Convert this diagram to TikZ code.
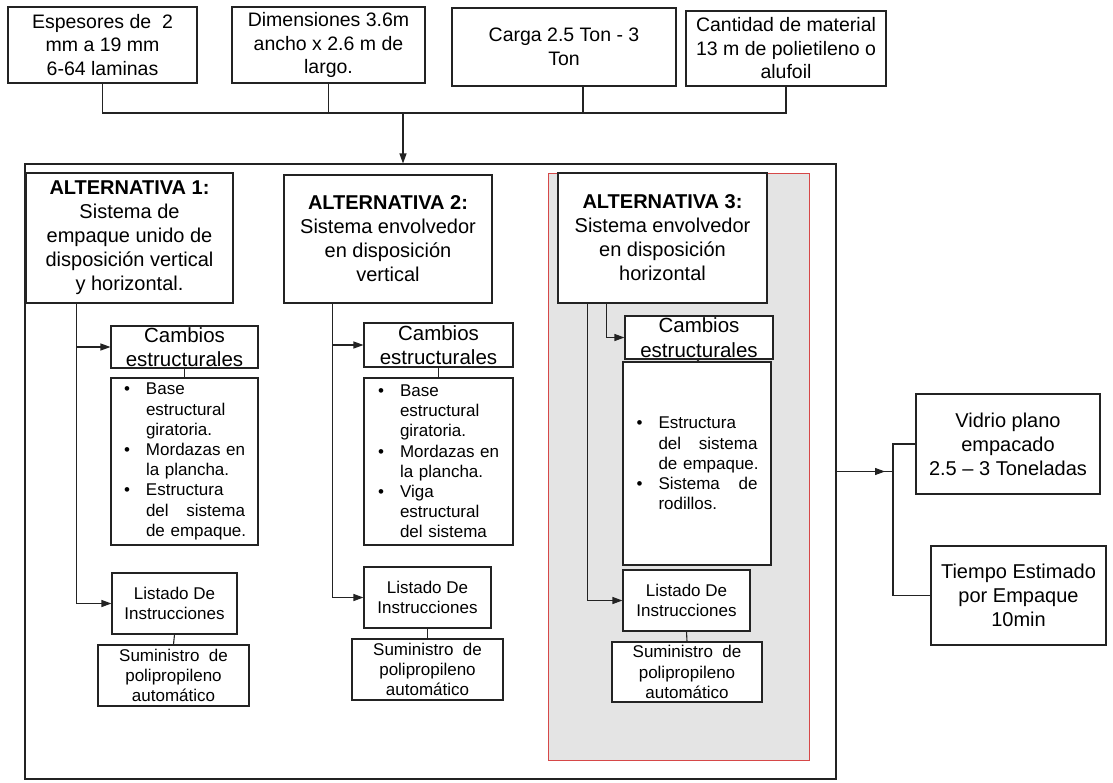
\documentclass[tikz,border=0pt]{standalone}
\usepackage{fontspec}
\setmainfont{Liberation Sans}
\usetikzlibrary{arrows.meta,calc}
\definecolor{linecol}{RGB}{35,35,35}
\definecolor{altfill}{RGB}{228,228,228}
\definecolor{altred}{RGB}{214,72,72}
\tikzset{
  box/.style={draw=linecol, line width=1.1pt, fill=white, inner sep=0pt, align=center},
  toptxt/.style={font=\fontsize{19.5}{23.5}\selectfont},
  bigtxt/.style={font=\fontsize{20}{24}\selectfont},
  midtxt/.style={font=\fontsize{20.5}{24.5}\selectfont},
  smalltxt/.style={font=\fontsize{17}{20.2}\selectfont},
  bullets/.style={box, smalltxt, align=left, text width=121pt},
  link/.style={draw=linecol, line width=1.1pt},
  arrowlink/.style={link, -{Triangle[length=10pt,width=7pt]}},
}
% bullet line, continuation line and justified line inside bullet boxes
\newcommand{\bitem}[1]{\mbox{\makebox[22pt][l]{\textbullet}#1}}
\newcommand{\cont}[1]{\mbox{\hspace*{22pt}#1}}
\newcommand{\spread}[1]{\makebox[99pt][s]{#1}}

\begin{document}
\begin{tikzpicture}[x=1pt,y=-1pt]
\useasboundingbox (0,0) rectangle (1113,782);
\fill[white] (0,0) rectangle (1113,782);

% input parameters
\node[box,toptxt,minimum width=189pt,minimum height=76pt] (b1) at (102.5,45)
  {Espesores de~ 2\\mm a 19 mm\\6-64 laminas};
\node[box,toptxt,minimum width=193pt,minimum height=76pt] (b2) at (328.5,45)
  {Dimensiones 3.6m\\ancho x 2.6 m de\\largo.};
\node[box,toptxt,minimum width=224pt,minimum height=78pt] (b3) at (564,47)
  {Carga 2.5 Ton - 3\\Ton};
\node[box,toptxt,minimum width=200pt,minimum height=75pt] (b4) at (786,48.5)
  {Cantidad de material\\13 m de polietileno o\\alufoil};

% frame holding the three alternatives
\node[draw=linecol,line width=1.1pt,minimum width=811pt,minimum height=615pt,inner sep=0pt] (outer) at (430.5,471.5) {};
\node[draw=altred,fill=altfill,line width=0.9pt,minimum width=261pt,minimum height=587pt,inner sep=0pt] (alt3bg) at (678.5,466.5) {};

% collecting bus and arrow into the frame
\coordinate (bus) at (0,113);
\coordinate (drop) at (403,113);
\coordinate (b3tap) at ($(b3.south)+(19,0)$);
\draw[link] (b1.south) -- (b1.south |- bus) -- (b4.south |- bus) -- (b4.south);
\draw[link] (b2.south) -- (b2.south |- bus);
\draw[link] (b3tap) -- (b3tap |- bus);
\draw[arrowlink] (drop) -- (drop |- outer.north);

% alternative 1
\node[box,bigtxt,minimum width=207pt,minimum height=130pt] (h1) at (129.5,238)
  {\textbf{ALTERNATIVA 1:}\\Sistema de\\empaque unido de\\disposición vertical\\y horizontal.};
\node[box,midtxt,minimum width=147pt,minimum height=42pt] (c1) at (184.5,347)
  {Cambios\\estructurales};
\node[bullets,minimum width=147pt,minimum height=167pt] (p1) at (184.5,461.5)
  {\bitem{Base}\\ \cont{estructural}\\ \cont{giratoria.}\\ \bitem{\spread{Mordazas\hfill en}}\\ \cont{la plancha.}\\ \bitem{Estructura}\\ \cont{\spread{del\hfill sistema}}\\ \cont{de empaque.}};
\node[box,smalltxt,minimum width=125pt,minimum height=61pt] (l1) at (174.5,603.5)
  {Listado De\\Instrucciones};
\node[box,smalltxt,minimum width=151pt,minimum height=61pt] (s1) at (173.5,675.5)
  {Suministro~ de\\polipropileno\\automático};

% alternative 2
\node[box,bigtxt,minimum width=208pt,minimum height=128pt] (h2) at (388,239)
  {\textbf{ALTERNATIVA 2:}\\Sistema envolvedor\\en disposición\\vertical};
\node[box,midtxt,minimum width=149pt,minimum height=44pt] (c2) at (438.5,345)
  {Cambios\\estructurales};
\node[bullets,minimum width=149pt,minimum height=167pt] (p2) at (438.5,461.5)
  {\bitem{Base}\\ \cont{estructural}\\ \cont{giratoria.}\\ \bitem{\spread{Mordazas\hfill en}}\\ \cont{la plancha.}\\ \bitem{Viga}\\ \cont{estructural}\\ \cont{del sistema}};
\node[box,smalltxt,minimum width=127pt,minimum height=61pt] (l2) at (427.5,597.5)
  {Listado De\\Instrucciones};
\node[box,smalltxt,minimum width=151pt,minimum height=61pt] (s2) at (427.5,669.5)
  {Suministro~ de\\polipropileno\\automático};

% alternative 3
\node[box,bigtxt,minimum width=209pt,minimum height=130pt] (h3) at (662.5,238)
  {\textbf{ALTERNATIVA 3:}\\Sistema envolvedor\\en disposición\\horizontal};
\node[box,midtxt,minimum width=148pt,minimum height=43pt] (c3) at (699,337.5)
  {Cambios\\estructurales};
\node[bullets,minimum width=148pt,minimum height=203pt] (p3) at (697,463.5)
  {\bitem{Estructura}\\ \cont{\spread{del\hfill sistema}}\\ \cont{de empaque.}\\ \bitem{\spread{Sistema\hfill de}}\\ \cont{rodillos.}};
\node[box,smalltxt,minimum width=127pt,minimum height=61pt] (l3) at (686.5,600.5)
  {Listado De\\Instrucciones};
\node[box,smalltxt,minimum width=150pt,minimum height=60pt] (s3) at (687,672)
  {Suministro~ de\\polipropileno\\automático};

% results
\node[box,bigtxt,minimum width=184pt,minimum height=100pt] (vid) at (1008,444)
  {Vidrio plano\\empacado\\2.5 – 3 Toneladas};
\node[box,bigtxt,minimum width=175pt,minimum height=99pt] (tie) at (1018.5,595.5)
  {Tiempo Estimado\\por Empaque\\10min};

% branch points
\coordinate (t1) at ($(h1.south west)+(51,0)$);
\coordinate (t2) at ($(h2.south west)+(49,0)$);
\coordinate (t3a) at ($(h3.south west)+(49,0)$);
\coordinate (t3b) at ($(h3.south west)+(30,0)$);
\coordinate (rt) at (893,0);

% connectors inside each alternative
\draw[arrowlink] (t1) |- (c1.west);
\draw[arrowlink] (t1) |- (l1.west);
\draw[link] (c1.south) -- (p1.north);
\draw[link] (l1.south) -- (s1.north);

\draw[arrowlink] (t2) |- (c2.west);
\draw[arrowlink] (t2) |- (l2.west);
\draw[link] (c2.south) -- (p2.north);
\draw[link] (l2.south) -- (s2.north);

\draw[arrowlink] (t3a) |- (c3.west);
\draw[arrowlink] (t3b) |- (l3.west);
\draw[link] (c3.south) -- (p3.north);
\draw[link] (l3.south) -- (s3.north);

% output branch: arrowhead sits just before the split
\draw[link] (outer.east) -- (outer.east -| rt);
\draw[arrowlink, shorten >=8pt] (outer.east) -- (outer.east -| rt);
\draw[link] (vid.west) -- (vid.west -| rt) -- (tie.west -| rt) -- (tie.west);
\end{tikzpicture}
\end{document}
